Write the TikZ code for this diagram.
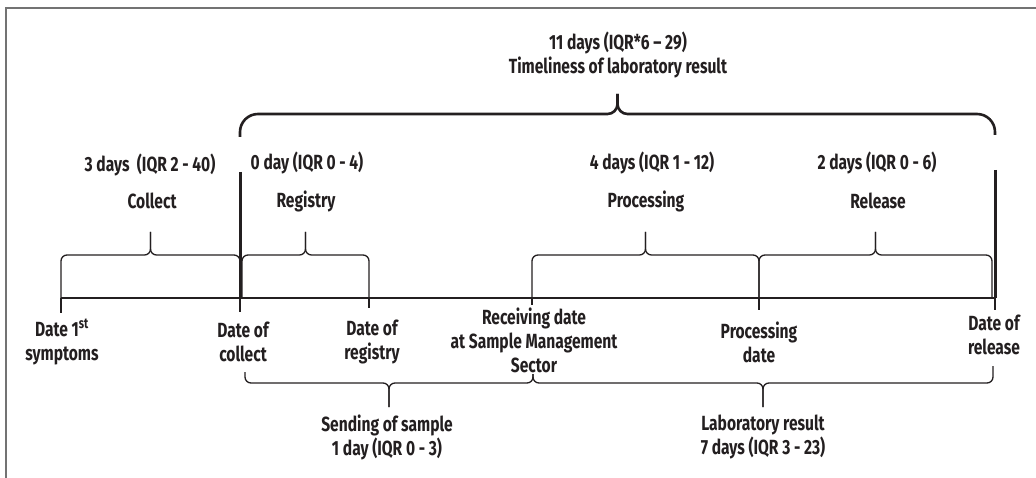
\documentclass[tikz,border=0pt]{standalone}
\usepackage{fontspec}
\setmainfont{Fira Sans}[FakeStretch=0.76]
\usepackage{tikz}
\usetikzlibrary{calc}
\usepackage{xcolor}
\definecolor{ink}{HTML}{231F20}

\tikzset{
  lbl/.style={font=\bfseries\fontsize{20.5pt}{24pt}\selectfont, text=ink, align=center, inner sep=0pt},
  tline/.style={line width=1.3pt, draw=ink},
  thickline/.style={line width=3pt, draw=ink},
  brace/.style={line width=1.3pt, draw=ink, rounded corners=6pt},
  bigbrace/.style={line width=2.6pt, draw=ink},
  frame/.style={line width=1.5pt, draw=black!55}
}

% brace over the time line, tip up
\newcommand{\upbrace}[2]{%
  \coordinate (#1#2) at ($(#1)!.5!(#2)$);
  \draw[brace] (#1) -- (#1 |- upH) -- (#1#2 |- upH) -- (#1#2 |- upT);
  \draw[brace] (#2) -- (#2 |- upH) -- (#1#2 |- upH) -- (#1#2 |- upT);
}
% brace under the labels, tip down
\newcommand{\downbrace}[2]{%
  \coordinate (#1#2) at ($(#1)!.5!(#2)$);
  \draw[brace] (#1) -- (#1 |- dnH) -- (#1#2 |- dnH) -- (#1#2 |- dnT);
  \draw[brace] (#2) -- (#2 |- dnH) -- (#1#2 |- dnH) -- (#1#2 |- dnT);
}

\begin{document}
\begin{tikzpicture}[x=1pt,y=-1pt]
  \useasboundingbox (0,0) rectangle (1036,478);
  \draw[frame] (1036,8) -- (6,8) -- (6,478);

  % levels
  \coordinate (upH) at (0,255);
  \coordinate (upT) at (0,232);
  \coordinate (dnH) at (0,383);
  \coordinate (dnT) at (0,407);
  \coordinate (bigH) at (0,114);
  \coordinate (bigT) at (0,94);

  % dates on the time line
  \coordinate (sym) at (61,298);
  \coordinate (col) at (240,298);
  \coordinate (reg) at (369,298);
  \coordinate (rec) at (532,298);
  \coordinate (proc) at (759,298);
  \coordinate (rel) at (995,298);
  \coordinate (regL) at (242,298);
  \coordinate (relL) at (992,298);

  \draw[tline] (sym) -- (rel);
  \foreach \d/\l in {sym/15,col/14,reg/10,rec/7,proc/12,rel/12}
    \draw[tline] (\d) -- ++(0,\l);

  % thick limits of the timeliness
  \coordinate (colTop) at (240,172);
  \coordinate (relTop) at (995,170);
  \draw[thickline] (colTop) -- (col);
  \draw[thickline] (relTop) -- (rel);

  % phase braces
  \upbrace{sym}{col}
  \upbrace{regL}{reg}
  \upbrace{rec}{proc}
  \upbrace{proc}{relL}

  % timeliness brace
  \coordinate (bigL) at (240,137);
  \coordinate (bigR) at (995,135);
  \coordinate (bigM) at ($(bigL)!.5!(bigR)$);
  \draw[bigbrace] (bigL) [rounded corners=18pt] -- (bigL |- bigH) [rounded corners=10pt] -- (bigM |- bigH) -- (bigM |- bigT);
  \draw[bigbrace] (bigR) [rounded corners=18pt] -- (bigR |- bigH) [rounded corners=10pt] -- (bigM |- bigH) -- (bigM |- bigT);

  % braces under the dates
  \coordinate (sendA) at (245,372);
  \coordinate (sendB) at (533,374);
  \coordinate (labB) at (993,366);
  \downbrace{sendA}{sendB}
  \downbrace{sendB}{labB}

  % texts
  \node[lbl] (total) at (618,55) {11 days (IQR*6 -- 29)\\Timeliness of laboratory result};
  \node[lbl] (tCol) at (150,165) {3 days~ (IQR 2 - 40)};
  \node[lbl] (tReg) at (307,163) {0 day (IQR 0 - 4)};
  \node[lbl] (tProc) at (652,163) {4 days (IQR 1 - 12)};
  \node[lbl] (tRel) at (877,163) {2 days (IQR 0 - 6)};
  \node[lbl] (nCol) at (152,201) {Collect};
  \node[lbl] (nReg) at (306,201) {Registry};
  \node[lbl] (nProc) at (646,201) {Processing};
  \node[lbl] (nRel) at (878,201) {Release};

  \node[lbl] (dSym) at (62,342) {Date 1\textsuperscript{st}\\symptoms};
  \node[lbl] (dCol) at (243,342) {Date of\\collect};
  \node[lbl] (dReg) at (372,342) {Date of\\registry};
  \node[lbl] (dRec) at (534,340) {Receiving date\\at Sample Management\\Sector};
  \node[lbl] (dProc) at (759,342) {Processing\\date};
  \node[lbl] (dRel) at (994,335) {Date of\\release};

  \node[lbl] (send) at (387,437) {Sending of sample\\1 day (IQR 0 - 3)};
  \node[lbl] (lab) at (763,437) {Laboratory result\\7 days (IQR 3 - 23)};
\end{tikzpicture}
\end{document}
